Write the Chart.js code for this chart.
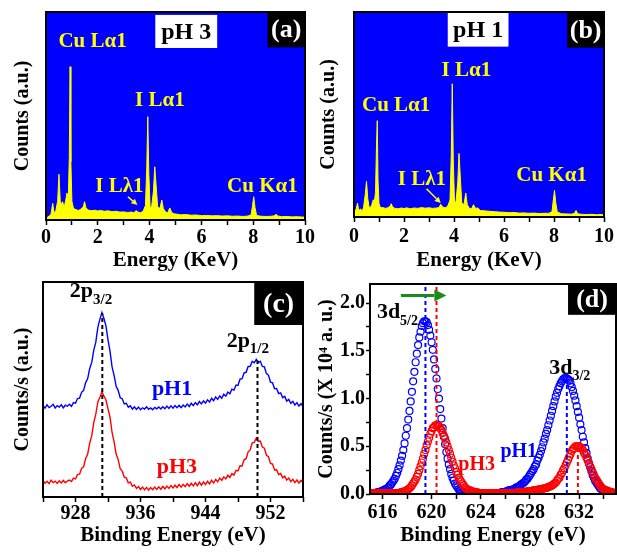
<!DOCTYPE html>
<html>
<head>
<meta charset="utf-8">
<title>EDS and XPS spectra</title>
<script src="https://cdn.jsdelivr.net/npm/chart.js@4.4.1/dist/chart.umd.min.js"></script>
<style>
  html, body { margin: 0; padding: 0; background: #fff; }
  #fig { position: relative; width: 617px; height: 552px; overflow: hidden; }
  #fig canvas { position: absolute; }
</style>
</head>
<body>
<div id="fig">
  <canvas id="edsPH3" width="320" height="278" style="left:0;top:0"></canvas>
  <canvas id="edsPH1" width="312" height="278" style="left:305px;top:0"></canvas>
  <canvas id="cu2p" width="310" height="282" style="left:0;top:270px"></canvas>
  <canvas id="i3d" width="312" height="282" style="left:305px;top:270px"></canvas>
</div>
<script>
// ---- EDS spectra (keV, arbitrary counts) ----
const edsEnergy = [0.00, 0.01, 0.03, 0.08, 0.14, 0.19, 0.26, 0.31, 0.38, 0.45,
  0.50, 0.55, 0.60, 0.64, 0.70, 0.77, 0.81, 0.86, 0.90, 0.93,
  0.96, 1.00, 1.06, 1.15, 1.25, 1.35, 1.44, 1.49, 1.54, 1.62,
  1.75, 1.90, 2.00, 2.10, 2.25, 2.40, 2.55, 2.70, 2.85, 3.00,
  3.15, 3.30, 3.40, 3.47, 3.55, 3.65, 3.75, 3.84, 3.89, 3.93,
  3.97, 4.02, 4.08, 4.15, 4.20, 4.25, 4.31, 4.40, 4.47, 4.53,
  4.62, 4.70, 4.78, 4.86, 4.95, 5.05, 5.20, 5.40, 5.60, 5.80,
  6.00, 6.20, 6.40, 6.60, 6.80, 7.00, 7.20, 7.40, 7.60, 7.80,
  7.92, 7.97, 8.02, 8.07, 8.13, 8.30, 8.50, 8.70, 8.82, 8.88,
  8.95, 9.10, 9.30, 9.50, 9.70, 9.90, 10.00];
const countsPH3 = [0.5, 0.8, 1.0, 1.5, 2.2, 2.5, 8, 3.5, 4.5, 9,
  22, 9, 7.5, 8.8, 6, 10, 13, 10, 30, 73.7,
  28, 9, 5.6, 5.0, 4.6, 5.2, 6.5, 8.8, 6.0, 4.8,
  4.5, 4.7, 4.3, 4.6, 4.2, 4.4, 4.0, 4.2, 3.8, 3.9,
  3.6, 3.8, 3.5, 4.5, 3.8, 3.5, 4.2, 7, 25, 49.7,
  22, 6, 6.5, 14, 25.6, 17, 6.5, 5.5, 9.6, 5.5,
  3.8, 3.5, 5.8, 3.5, 3.0, 2.8, 2.5, 2.6, 2.3, 2.4,
  2.1, 2.2, 2.0, 2.1, 1.9, 2.0, 1.8, 1.9, 1.7, 1.9,
  2.5, 6.5, 11.2, 6, 2.2, 1.8, 1.7, 1.8, 2.0, 2.8,
  1.9, 1.6, 1.7, 1.5, 1.6, 1.4, 1.5];
const countsPH1 = [0, 90, 3, 3.5, 6.8, 3, 4, 2.7, 4.5, 11,
  17.4, 9, 5, 4.6, 5.5, 8.4, 7, 12, 35, 47,
  18, 6.5, 4.5, 4.6, 4.2, 4.5, 5.2, 6.5, 5.0, 4.3,
  4.0, 4.4, 4.1, 4.5, 4.0, 4.4, 4.2, 4.6, 4.3, 4.5,
  4.2, 4.4, 4.6, 6.2, 4.8, 4.5, 5.3, 8.3, 30, 65,
  28, 7, 7.5, 17, 31, 20, 7, 6, 11.7, 6,
  4.2, 4.0, 6.0, 4.2, 4.4, 3.2, 3.0, 2.8, 2.6, 2.4,
  2.3, 2.1, 2.2, 1.9, 2.0, 1.8, 1.9, 1.7, 1.8, 1.8,
  2.6, 8, 13, 7, 2.4, 1.6, 1.5, 1.4, 1.8, 3.2,
  1.6, 1.3, 1.2, 1.3, 1.1, 1.2, 1.1];

// ---- Cu 2p XPS (eV, arbitrary offset counts) ----
const cuEnergy = [
  924.00, 924.25, 924.50, 924.75, 925.00, 925.25, 925.50, 925.75,
  926.00, 926.25, 926.50, 926.75, 927.00, 927.25, 927.50, 927.75,
  928.00, 928.25, 928.50, 928.75, 929.00, 929.25, 929.50, 929.75,
  930.00, 930.25, 930.50, 930.75, 931.00, 931.25, 931.50, 931.75,
  932.00, 932.25, 932.50, 932.75, 933.00, 933.25, 933.50, 933.75,
  934.00, 934.25, 934.50, 934.75, 935.00, 935.25, 935.50, 935.75,
  936.00, 936.25, 936.50, 936.75, 937.00, 937.25, 937.50, 937.75,
  938.00, 938.25, 938.50, 938.75, 939.00, 939.25, 939.50, 939.75,
  940.00, 940.25, 940.50, 940.75, 941.00, 941.25, 941.50, 941.75,
  942.00, 942.25, 942.50, 942.75, 943.00, 943.25, 943.50, 943.75,
  944.00, 944.25, 944.50, 944.75, 945.00, 945.25, 945.50, 945.75,
  946.00, 946.25, 946.50, 946.75, 947.00, 947.25, 947.50, 947.75,
  948.00, 948.25, 948.50, 948.75, 949.00, 949.25, 949.50, 949.75,
  950.00, 950.25, 950.50, 950.75, 951.00, 951.25, 951.50, 951.75,
  952.00, 952.25, 952.50, 952.75, 953.00, 953.25, 953.50, 953.75,
  954.00, 954.25, 954.50, 954.75, 955.00, 955.25, 955.50, 955.75,
  956.00];
const cuPH1 = [
  42.6, 41.3, 42.9, 41.6, 42.2, 43.1, 41.4, 42.5,
  41.8, 42.9, 41.5, 42.7, 42.2, 43.1, 42.2, 43.9,
  43.6, 45.8, 46.0, 48.7, 49.6, 53.2, 55.1, 59.8,
  62.6, 68.3, 72.0, 78.9, 82.6, 85.8, 83.0, 79.6,
  73.1, 67.7, 60.5, 56.6, 51.5, 49.6, 46.2, 45.7,
  43.3, 43.6, 41.8, 42.4, 40.9, 41.9, 40.7, 41.8,
  40.6, 41.5, 40.9, 41.9, 40.8, 41.4, 40.6, 41.7,
  41.0, 41.9, 40.9, 42.0, 41.1, 42.3, 41.2, 42.4,
  41.3, 42.5, 41.5, 42.6, 41.6, 42.8, 41.9, 43.2,
  42.1, 43.6, 42.5, 43.9, 42.9, 44.4, 43.3, 44.7,
  43.7, 45.2, 44.2, 45.9, 44.8, 46.5, 45.4, 47.0,
  45.9, 47.8, 46.9, 48.8, 48.0, 50.1, 49.7, 52.0,
  52.0, 54.8, 55.0, 57.8, 58.0, 60.7, 60.8, 63.1,
  62.4, 64.0, 62.5, 63.1, 60.7, 60.5, 57.4, 56.7,
  53.4, 53.1, 50.4, 50.5, 48.1, 48.4, 46.2, 46.8,
  44.6, 45.4, 43.6, 44.5, 42.8, 43.9, 42.3, 43.4,
  42.1];
const cuPH3 = [
  7.6, 6.4, 7.3, 6.2, 7.8, 6.7, 7.4, 6.3,
  7.5, 6.5, 7.7, 6.6, 7.4, 7.9, 7.2, 8.8,
  8.4, 10.5, 10.6, 13.3, 14.1, 17.9, 20.0, 25.1,
  28.5, 34.7, 38.5, 44.2, 46.3, 48.9, 47.0, 45.1,
  41.0, 37.1, 30.0, 25.6, 20.0, 17.4, 13.2, 12.1,
  9.2, 8.9, 6.6, 6.9, 5.0, 5.6, 4.0, 4.9,
  3.5, 4.6, 3.3, 4.5, 3.2, 4.4, 3.4, 4.6,
  3.5, 4.7, 3.6, 4.9, 3.8, 5.1, 4.0, 5.3,
  4.2, 5.5, 4.4, 5.8, 4.6, 5.9, 4.8, 6.2,
  5.0, 6.4, 5.2, 6.6, 5.3, 6.9, 5.5, 7.0,
  5.8, 7.3, 6.1, 7.8, 6.5, 8.2, 7.1, 8.8,
  7.8, 9.4, 8.4, 10.1, 9.1, 10.9, 10.2, 12.4,
  12.1, 14.5, 14.4, 17.3, 17.8, 21.0, 21.9, 25.2,
  25.4, 27.4, 25.8, 26.0, 23.2, 22.7, 19.4, 18.7,
  15.6, 15.3, 12.6, 12.7, 10.4, 10.9, 8.9, 9.7,
  7.9, 8.8, 7.2, 8.2, 6.7, 7.9, 6.5, 7.7,
  6.6];
const cuPeakEnergy = [931.3, 950.4];
const cuPeakTop = [85.5, 63.5];

// ---- I 3d XPS (eV, counts/s x 1e4) ----
const iEnergy = [
  615.0, 615.1, 615.2, 615.3, 615.4, 615.5, 615.6, 615.7, 615.8, 615.9,
  616.0, 616.1, 616.2, 616.3, 616.4, 616.5, 616.6, 616.7, 616.8, 616.9,
  617.0, 617.1, 617.2, 617.3, 617.4, 617.5, 617.6, 617.7, 617.8, 617.9,
  618.0, 618.1, 618.2, 618.3, 618.4, 618.5, 618.6, 618.7, 618.8, 618.9,
  619.0, 619.1, 619.2, 619.3, 619.4, 619.5, 619.6, 619.7, 619.8, 619.9,
  620.0, 620.1, 620.2, 620.3, 620.4, 620.5, 620.6, 620.7, 620.8, 620.9,
  621.0, 621.1, 621.2, 621.3, 621.4, 621.5, 621.6, 621.7, 621.8, 621.9,
  622.0, 622.1, 622.2, 622.3, 622.4, 622.5, 622.6, 622.7, 622.8, 622.9,
  623.0, 623.1, 623.2, 623.3, 623.4, 623.5, 623.6, 623.7, 623.8, 623.9,
  624.0, 624.1, 624.2, 624.3, 624.4, 624.5, 624.6, 624.7, 624.8, 624.9,
  625.0, 625.1, 625.2, 625.3, 625.4, 625.5, 625.6, 625.7, 625.8, 625.9,
  626.0, 626.1, 626.2, 626.3, 626.4, 626.5, 626.6, 626.7, 626.8, 626.9,
  627.0, 627.1, 627.2, 627.3, 627.4, 627.5, 627.6, 627.7, 627.8, 627.9,
  628.0, 628.1, 628.2, 628.3, 628.4, 628.5, 628.6, 628.7, 628.8, 628.9,
  629.0, 629.1, 629.2, 629.3, 629.4, 629.5, 629.6, 629.7, 629.8, 629.9,
  630.0, 630.1, 630.2, 630.3, 630.4, 630.5, 630.6, 630.7, 630.8, 630.9,
  631.0, 631.1, 631.2, 631.3, 631.4, 631.5, 631.6, 631.7, 631.8, 631.9,
  632.0, 632.1, 632.2, 632.3, 632.4, 632.5, 632.6, 632.7, 632.8, 632.9,
  633.0, 633.1, 633.2, 633.3, 633.4, 633.5, 633.6, 633.7, 633.8, 633.9,
  634.0, 634.1, 634.2, 634.3, 634.4, 634.5, 634.6, 634.7, 634.8, 634.9,
  635.0];
const iPH1 = [
  0.01, 0.01, 0.01, 0.01, 0.01, 0.01, 0.02, 0.02, 0.02, 0.03,
  0.03, 0.04, 0.05, 0.05, 0.06, 0.07, 0.09, 0.10, 0.12, 0.14,
  0.16, 0.19, 0.22, 0.26, 0.30, 0.35, 0.40, 0.46, 0.53, 0.61,
  0.69, 0.78, 0.87, 0.97, 1.07, 1.18, 1.28, 1.38, 1.47, 1.56,
  1.64, 1.70, 1.76, 1.79, 1.81, 1.81, 1.80, 1.77, 1.72, 1.66,
  1.59, 1.51, 1.41, 1.31, 1.21, 1.10, 1.00, 0.89, 0.79, 0.69,
  0.60, 0.52, 0.44, 0.37, 0.31, 0.26, 0.21, 0.17, 0.14, 0.11,
  0.09, 0.07, 0.05, 0.04, 0.03, 0.02, 0.02, 0.01, 0.01, 0.01,
  0, 0, 0, 0, 0, 0, 0, 0, 0, 0,
  0, 0, 0, 0, 0, 0, 0, 0, 0, 0,
  0.01, 0.01, 0.01, 0.01, 0.01, 0.01, 0.01, 0.02, 0.02, 0.02,
  0.02, 0.03, 0.03, 0.04, 0.04, 0.04, 0.05, 0.05, 0.06, 0.07,
  0.07, 0.08, 0.09, 0.10, 0.11, 0.12, 0.13, 0.15, 0.16, 0.18,
  0.20, 0.22, 0.24, 0.26, 0.29, 0.31, 0.35, 0.38, 0.41, 0.45,
  0.49, 0.54, 0.58, 0.63, 0.67, 0.72, 0.77, 0.82, 0.87, 0.92,
  0.97, 1.02, 1.06, 1.10, 1.13, 1.16, 1.18, 1.20, 1.21, 1.22,
  1.21, 1.20, 1.19, 1.16, 1.12, 1.08, 1.03, 0.98, 0.92, 0.86,
  0.80, 0.73, 0.67, 0.60, 0.54, 0.48, 0.43, 0.37, 0.32, 0.28,
  0.24, 0.20, 0.17, 0.14, 0.12, 0.10, 0.08, 0.06, 0.05, 0.04,
  0.03, 0.03, 0.02, 0.02, 0.01, 0.01, 0.01, 0, 0, 0,
  0];
const iPH3 = [
  0.01, 0.01, 0.01, 0.01, 0.01, 0.01, 0.01, 0.01, 0.01, 0.01,
  0.01, 0.01, 0.01, 0.01, 0.01, 0.01, 0.01, 0.01, 0.01, 0.01,
  0.01, 0.01, 0.01, 0.01, 0.01, 0.02, 0.02, 0.02, 0.03, 0.03,
  0.04, 0.05, 0.06, 0.07, 0.09, 0.11, 0.13, 0.15, 0.18, 0.21,
  0.25, 0.29, 0.33, 0.37, 0.42, 0.46, 0.51, 0.55, 0.59, 0.63,
  0.66, 0.69, 0.70, 0.72, 0.72, 0.72, 0.71, 0.69, 0.67, 0.64,
  0.61, 0.58, 0.54, 0.50, 0.46, 0.42, 0.38, 0.34, 0.30, 0.27,
  0.23, 0.20, 0.17, 0.15, 0.13, 0.11, 0.09, 0.07, 0.06, 0.05,
  0.04, 0.04, 0.03, 0.03, 0.02, 0.02, 0.02, 0.02, 0.01, 0.01,
  0.01, 0.01, 0.01, 0.01, 0.01, 0.01, 0.01, 0.01, 0.01, 0.01,
  0.01, 0.01, 0.01, 0.01, 0.01, 0.01, 0.01, 0.01, 0.01, 0.01,
  0.01, 0.01, 0.01, 0.01, 0.01, 0.01, 0.01, 0.01, 0.01, 0.01,
  0.02, 0.02, 0.02, 0.02, 0.02, 0.02, 0.02, 0.02, 0.03, 0.03,
  0.03, 0.03, 0.03, 0.04, 0.04, 0.04, 0.04, 0.05, 0.05, 0.05,
  0.05, 0.06, 0.06, 0.06, 0.07, 0.07, 0.08, 0.08, 0.09, 0.10,
  0.11, 0.12, 0.14, 0.16, 0.17, 0.20, 0.22, 0.25, 0.27, 0.30,
  0.33, 0.36, 0.39, 0.42, 0.45, 0.47, 0.48, 0.50, 0.50, 0.50,
  0.50, 0.49, 0.48, 0.46, 0.43, 0.41, 0.38, 0.35, 0.32, 0.29,
  0.26, 0.23, 0.20, 0.17, 0.15, 0.13, 0.11, 0.09, 0.07, 0.06,
  0.05, 0.04, 0.04, 0.03, 0.03, 0.02, 0.02, 0.02, 0.01, 0.01,
  0.01];
const iPeakEnergy = [619.5, 620.4, 631.0, 631.9];
const iPeakTop = [2.2, 2.2, 1.21, 0.5];

const BLUE = '#0000ff', RED = '#ff0000', YELLOW = '#ffff00';
const SERIF = '"Liberation Serif", "Times New Roman", serif';

Chart.defaults.font.family = SERIF;
Chart.defaults.font.weight = 'bold';
Chart.defaults.color = '#000';

// background fill, frame, boxed tags, text labels with subscripts, arrows
const panelDecor = {
  id: 'panelDecor',
  beforeDraw(chart, args, opts) {
    if (!opts.fill) return;
    const { ctx, chartArea: a } = chart;
    ctx.save();
    ctx.fillStyle = opts.fill;
    ctx.fillRect(a.left, a.top, a.width, a.height);
    ctx.restore();
  },
  afterDraw(chart, args, opts) {
    const { ctx, chartArea: a, scales } = chart;
    const px = v => scales.x.getPixelForValue(v);
    const py = v => scales.y.getPixelForValue(v);
    const font = s => 'bold ' + s + 'px ' + SERIF;
    ctx.save();
    (opts.boxes || []).forEach(b => {
      const x0 = px(b.x0), x1 = px(b.x1), y0 = py(b.y1), y1 = py(b.y0);
      ctx.fillStyle = b.fill;
      ctx.fillRect(x0, y0, x1 - x0, y1 - y0);
      ctx.fillStyle = b.color;
      ctx.font = font(b.size);
      ctx.textAlign = 'center';
      ctx.textBaseline = 'middle';
      ctx.fillText(b.text, (x0 + x1) / 2, (y0 + y1) / 2 + 1);
    });
    ctx.textAlign = 'left';
    ctx.textBaseline = 'alphabetic';
    (opts.labels || []).forEach(l => {
      const x = px(l.x), y = py(l.y);
      ctx.fillStyle = l.color;
      ctx.font = font(l.size);
      ctx.fillText(l.text, x, y);
      if (l.sub) {
        const w = ctx.measureText(l.text).width;
        ctx.font = font(l.subSize);
        ctx.fillText(l.sub, x + w, y + l.size * 0.3);
      }
    });
    (opts.arrows || []).forEach(r => {
      const x0 = px(r.x0), y0 = py(r.y0), x1 = px(r.x1), y1 = py(r.y1);
      const ang = Math.atan2(y1 - y0, x1 - x0);
      const bx = x1 - r.head * Math.cos(ang), by = y1 - r.head * Math.sin(ang);
      const hw = r.head * 0.5;
      ctx.strokeStyle = r.color;
      ctx.fillStyle = r.color;
      ctx.lineWidth = r.width;
      ctx.beginPath();
      ctx.moveTo(x0, y0);
      ctx.lineTo(bx, by);
      ctx.stroke();
      ctx.beginPath();
      ctx.moveTo(x1, y1);
      ctx.lineTo(bx + hw * Math.sin(ang), by - hw * Math.cos(ang));
      ctx.lineTo(bx - hw * Math.sin(ang), by + hw * Math.cos(ang));
      ctx.closePath();
      ctx.fill();
    });
    ctx.strokeStyle = '#000';
    ctx.lineWidth = 2;
    ctx.strokeRect(a.left, a.top, a.width, a.height);
    ctx.restore();
  }
};
Chart.register(panelDecor);

function xAxis(o) {
  return {
    type: 'linear', position: 'bottom', min: o.min, max: o.max,
    ticks: {
      stepSize: o.step, autoSkip: false, maxRotation: 0, includeBounds: false,
      padding: o.tickPad, font: { size: 20, weight: 'bold' }, color: '#000',
      callback: o.label
    },
    grid: { drawOnChartArea: false, tickLength: 5, tickWidth: 1.5, tickColor: '#000' },
    border: { display: false },
    title: {
      display: true, text: o.title, color: '#000',
      font: { size: 21, weight: 'bold' }, padding: { top: 0, bottom: o.titlePad }
    },
    afterFit(scale) { scale.height = o.height; }
  };
}

function yAxis(o) {
  const ax = {
    type: 'linear', position: 'left', min: o.min, max: o.max,
    ticks: { display: false },
    grid: { display: false },
    border: { display: false },
    title: {
      display: true, text: o.title, color: '#000',
      font: { size: 20, weight: 'bold' }, padding: { top: o.titlePad, bottom: 0 }
    },
    afterFit(scale) { scale.width = o.width; }
  };
  if (o.step) {
    ax.ticks = {
      display: true, stepSize: o.step, autoSkip: false, includeBounds: false,
      padding: 1, font: { size: 20, weight: 'bold' }, color: '#000', callback: o.label
    };
    ax.grid = { display: true, drawOnChartArea: false, tickLength: 4, tickWidth: 1.5, tickColor: '#000' };
  }
  return ax;
}

// true when v sits on a multiple of m (tick values carry float noise)
const onMultiple = (v, m) => Math.abs(v / m - Math.round(v / m)) < 1e-6;

const baseOptions = (padding) => ({
  responsive: false,
  animation: false,
  events: [],
  layout: { padding: padding, autoPadding: false },
  plugins: { legend: { display: false }, tooltip: { enabled: false } }
});

function edsChart(id, counts, padding, dims, decor) {
  const opts = baseOptions(padding);
  opts.scales = {
    x: xAxis({ min: 0, max: 10, step: 1, tickPad: dims.tickPad, titlePad: 5, height: dims.xh,
               title: 'Energy (KeV)', label: v => (onMultiple(v, 2) ? String(Math.round(v)) : '') }),
    y: yAxis({ min: 0, max: 100, width: dims.yw, titlePad: dims.ytp, title: 'Counts (a.u.)' })
  };
  opts.plugins.panelDecor = decor;
  return new Chart(document.getElementById(id), {
    type: 'line',
    data: {
      datasets: [{
        data: edsEnergy.map((e, i) => ({ x: e, y: counts[i] })),
        borderColor: YELLOW, backgroundColor: YELLOW, borderWidth: 1,
        fill: 'origin', pointRadius: 0, tension: 0
      }]
    },
    options: opts
  });
}

edsChart('edsPH3', countsPH3, { left: 0, top: 12, right: 15, bottom: 0 },
  { xh: 58, yw: 46, ytp: 11, tickPad: 1 },
  {
    fill: BLUE,
    boxes: [
      { x0: 4.22, x1: 6.61, y0: 82.7, y1: 98.6, fill: '#fff', color: '#000', text: 'pH 3', size: 24 },
      { x0: 8.55, x1: 10, y0: 83, y1: 100, fill: '#000', color: '#fff', text: '(a)', size: 26 }
    ],
    labels: [
      { text: 'Cu L\u03b11', x: 0.48, y: 83.3, color: YELLOW, size: 21 },
      { text: 'I L\u03b11', x: 3.44, y: 54.8, color: YELLOW, size: 21 },
      { text: 'I L\u03bb1', x: 1.9, y: 13.6, color: YELLOW, size: 21 },
      { text: 'Cu K\u03b11', x: 6.99, y: 13.6, color: YELLOW, size: 21 }
    ],
    arrows: [{ x0: 3.16, y0: 11.2, x1: 3.53, y1: 7.2, color: YELLOW, width: 1.5, head: 6 }]
  });

edsChart('edsPH1', countsPH1, { left: 0, top: 12, right: 12, bottom: 0 },
  { xh: 61, yw: 49, ytp: 12, tickPad: 3 },
  {
    fill: BLUE,
    boxes: [
      { x0: 3.75, x1: 6.18, y0: 83.1, y1: 99.7, fill: '#fff', color: '#000', text: 'pH 1', size: 24 },
      { x0: 8.53, x1: 10, y0: 82.6, y1: 100, fill: '#000', color: '#fff', text: '(b)', size: 26 }
    ],
    labels: [
      { text: 'I L\u03b11', x: 3.5, y: 68.6, color: YELLOW, size: 21 },
      { text: 'Cu L\u03b11', x: 0.32, y: 51.9, color: YELLOW, size: 21 },
      { text: 'I L\u03bb1', x: 1.75, y: 15.8, color: YELLOW, size: 21 },
      { text: 'Cu K\u03b11', x: 6.49, y: 17.4, color: YELLOW, size: 21 }
    ],
    arrows: [{ x0: 2.9, y0: 13.8, x1: 3.47, y1: 6.8, color: YELLOW, width: 1.5, head: 6 }]
  });

// Cu 2p panel
(function () {
  const opts = baseOptions({ left: 0, top: 12, right: 7, bottom: 0 });
  opts.scales = {
    x: xAxis({ min: 924, max: 956, step: 4, tickPad: 0, titlePad: 4, height: 55,
               title: 'Binding Energy (eV)',
               label: v => (onMultiple(v - 928, 8) ? String(Math.round(v)) : '') }),
    y: yAxis({ min: 0, max: 100, width: 43, titlePad: 11, title: 'Counts/s (a.u.)' })
  };
  opts.plugins.panelDecor = {
    boxes: [{ x0: 950, x1: 956, y0: 80, y1: 100, fill: '#000', color: '#fff', text: '(c)', size: 28 }],
    labels: [
      { text: '2p', sub: '3/2', x: 927.3, y: 93, color: '#000', size: 22, subSize: 15 },
      { text: '2p', sub: '1/2', x: 946.6, y: 69.9, color: '#000', size: 22, subSize: 15 },
      { text: 'pH1', x: 937.4, y: 47.4, color: BLUE, size: 22 },
      { text: 'pH3', x: 938.0, y: 11, color: RED, size: 22 }
    ]
  };
  const guides = cuPeakEnergy.map((e, i) => ({
    data: [{ x: e, y: 0 }, { x: e, y: cuPeakTop[i] }],
    borderColor: '#000', borderWidth: 2, borderDash: [4, 3], pointRadius: 0, order: 0
  }));
  new Chart(document.getElementById('cu2p'), {
    type: 'line',
    data: {
      datasets: [
        { data: cuEnergy.map((e, i) => ({ x: e, y: cuPH1[i] })), borderColor: BLUE,
          borderWidth: 1.4, pointRadius: 0, tension: 0, order: 2 },
        { data: cuEnergy.map((e, i) => ({ x: e, y: cuPH3[i] })), borderColor: RED,
          borderWidth: 1.4, pointRadius: 0, tension: 0, order: 1 }
      ].concat(guides)
    },
    options: opts
  });
})();

// I 3d panel
(function () {
  const opts = baseOptions({ left: 0, top: 14, right: 1, bottom: 0 });
  // a lower bound just off the even grid keeps the ticks on 616, 618, ...
  opts.scales = {
    x: xAxis({ min: 614.99, max: 635, step: 2, tickPad: 2, titlePad: 4, height: 58,
               title: 'Binding Energy (eV)',
               label: v => (onMultiple(v, 4) ? String(Math.round(v)) : '') }),
    y: yAxis({ min: 0, max: 2.2, step: 0.25, width: 65, titlePad: 10,
               title: 'Counts/s (X 10\u2074 a. u.)',
               label: v => (onMultiple(v, 0.5) ? v.toFixed(1) : '') })
  };
  opts.plugins.panelDecor = {
    boxes: [{ x0: 631.1, x1: 635, y0: 1.877, y1: 2.2, fill: '#000', color: '#fff', text: '(d)', size: 26 }],
    labels: [
      { text: '3d', sub: '5/2', x: 615.55, y: 1.84, color: '#000', size: 22, subSize: 14 },
      { text: '3d', sub: '3/2', x: 629.57, y: 1.26, color: '#000', size: 22, subSize: 14 },
      { text: 'pH1', x: 625.6, y: 0.39, color: BLUE, size: 20 },
      { text: 'pH3', x: 622.17, y: 0.25, color: RED, size: 20 }
    ],
    arrows: [{ x0: 617.5, y0: 2.08, x1: 621.2, y1: 2.08, color: '#1a8c1a', width: 3, head: 12 }]
  };
  const guideColors = [BLUE, RED, BLUE, RED];
  const guides = iPeakEnergy.map((e, i) => ({
    data: [{ x: e, y: 0 }, { x: e, y: iPeakTop[i] }],
    borderColor: guideColors[i], borderWidth: 2, borderDash: [4, 3], pointRadius: 0, order: 0
  }));
  const circles = (vals, color, order) => ({
    data: iEnergy.map((e, i) => ({ x: e, y: vals[i] })),
    showLine: false, pointStyle: 'circle', pointRadius: 3.5, pointBorderWidth: 1.2,
    borderColor: color, pointBorderColor: color, pointBackgroundColor: 'rgba(0,0,0,0)', order: order
  });
  new Chart(document.getElementById('i3d'), {
    type: 'line',
    data: { datasets: [circles(iPH1, BLUE, 2), circles(iPH3, RED, 1)].concat(guides) },
    options: opts
  });
})();
</script>
</body>
</html>
